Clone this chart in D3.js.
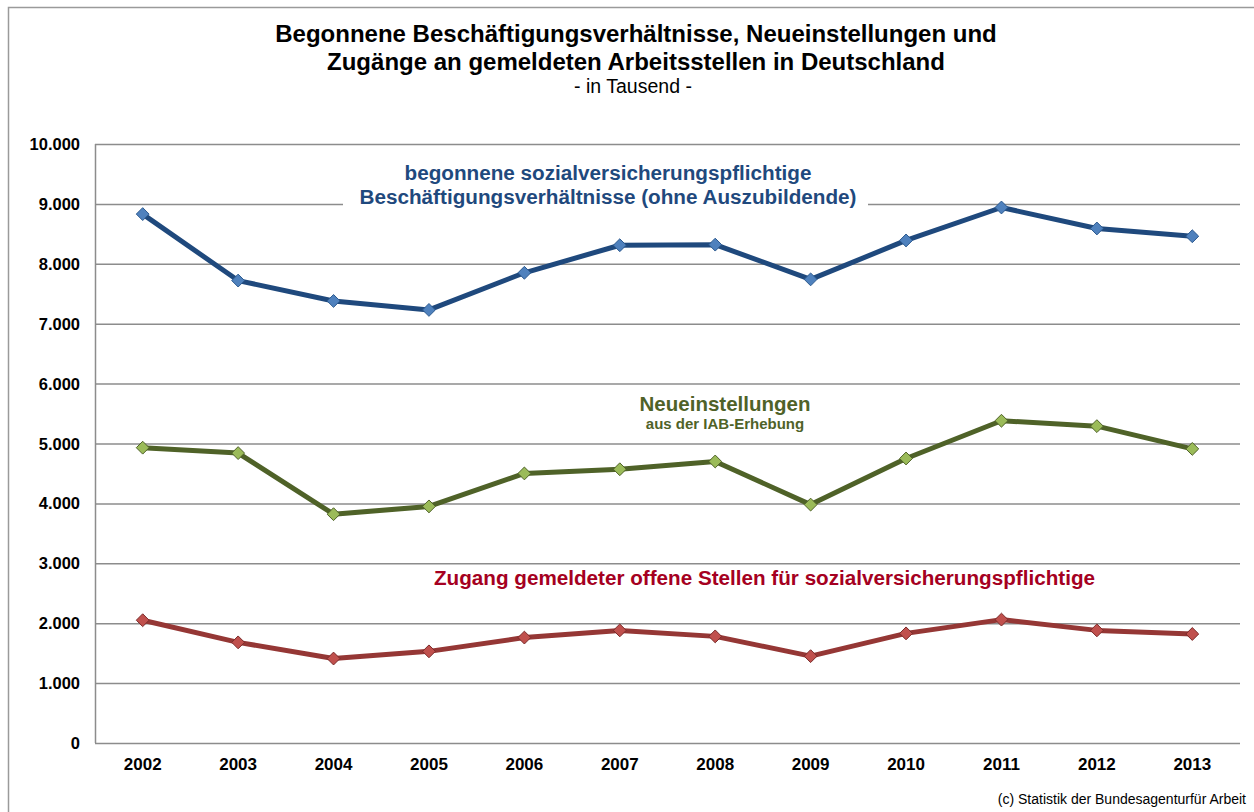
<!DOCTYPE html>
<html>
<head>
<meta charset="utf-8">
<script src="https://cdn.jsdelivr.net/npm/d3@7"></script>
<style>
  body { margin: 0; background: #fff; }
  text { font-family: "Liberation Sans", Arial, sans-serif; }
</style>
</head>
<body>
<div id="chart"></div>
<script>
const years = ["2002", "2003", "2004", "2005", "2006", "2007", "2008", "2009", "2010", "2011", "2012", "2013"];
const beschaeftigung = [8830, 7720, 7380, 7230, 7850, 8310, 8320, 7740, 8390, 8940, 8590, 8460];
const neueinstellungen = [4930, 4840, 3820, 3950, 4500, 4570, 4700, 3980, 4750, 5380, 5290, 4910];
const zugangStellen = [2050, 1680, 1410, 1530, 1760, 1880, 1780, 1450, 1830, 2060, 1880, 1820];
const yTicks = [0, 1000, 2000, 3000, 4000, 5000, 6000, 7000, 8000, 9000, 10000];

const width = 1254;
const height = 812;
const margin = { top: 144, right: 14, bottom: 69, left: 95 };

const svg = d3.select("#chart")
    .append("svg")
    .attr("width", width)
    .attr("height", height);

// outer frame
svg.append("rect")
    .attr("x", 8.5).attr("y", 7.5)
    .attr("width", width + 10).attr("height", height + 10)
    .attr("fill", "none")
    .attr("stroke", "#9a9a9a")
    .attr("stroke-width", 1.5);

// title
const title = svg.append("g").attr("text-anchor", "middle");
title.append("text").attr("x", 636).attr("y", 42)
    .style("font-size", "24px").style("font-weight", "bold")
    .text("Begonnene Beschäftigungsverhältnisse, Neueinstellungen und");
title.append("text").attr("x", 636).attr("y", 70)
    .style("font-size", "24px").style("font-weight", "bold")
    .text("Zugänge an gemeldeten Arbeitsstellen in Deutschland");
title.append("text").attr("x", 633).attr("y", 93)
    .style("font-size", "19.5px")
    .text("- in Tausend -");

const x = d3.scaleBand()
    .domain(years)
    .range([margin.left, width - margin.right])
    .padding(0);

const y = d3.scaleLinear()
    .domain([0, 10000])
    .range([height - margin.bottom, margin.top]);

const fmt = d3.formatLocale({ decimal: ",", thousands: ".", grouping: [3], currency: ["", " €"] }).format(",.0f");

// gridlines
svg.append("g")
    .selectAll("line")
    .data(yTicks)
    .enter()
    .append("line")
    .attr("x1", margin.left)
    .attr("x2", width - margin.right)
    .attr("y1", (d) => y(d) + 0.5)
    .attr("y2", (d) => y(d) + 0.5)
    .attr("stroke", "#8c8c8c")
    .attr("stroke-width", 1.5);

svg.append("line")
    .attr("x1", margin.left + 0.5).attr("x2", margin.left + 0.5)
    .attr("y1", y(10000)).attr("y2", y(0))
    .attr("stroke", "#8c8c8c")
    .attr("stroke-width", 1.5);

// y labels
svg.append("g")
    .selectAll("text")
    .data(yTicks)
    .enter()
    .append("text")
    .attr("x", 80)
    .attr("y", (d) => y(d) + 6)
    .attr("text-anchor", "end")
    .style("font-size", "16.5px")
    .style("font-weight", "bold")
    .text((d) => fmt(d));

// x labels
svg.append("g")
    .selectAll("text")
    .data(years)
    .enter()
    .append("text")
    .attr("x", (d) => x(d) + x.bandwidth() / 2)
    .attr("y", 770)
    .attr("text-anchor", "middle")
    .style("font-size", "17px")
    .style("font-weight", "bold")
    .text((d) => d);

// blue series label with white box over gridline
svg.append("rect")
    .attr("x", 343).attr("y", 160)
    .attr("width", 525).attr("height", 52)
    .attr("fill", "#fff");
const blueLabel = svg.append("g").attr("text-anchor", "middle")
    .style("fill", "#1F497D").style("font-weight", "bold").style("font-size", "20.7px");
blueLabel.append("text").attr("x", 608).attr("y", 180).text("begonnene sozialversicherungspflichtige");
blueLabel.append("text").attr("x", 608).attr("y", 204).text("Beschäftigungsverhältnisse (ohne Auszubildende)");

const greenLabel = svg.append("g").attr("text-anchor", "middle")
    .style("fill", "#4F6228").style("font-weight", "bold");
greenLabel.append("text").attr("x", 725).attr("y", 411).style("font-size", "20.5px").text("Neueinstellungen");
greenLabel.append("text").attr("x", 725).attr("y", 429).style("font-size", "15px").text("aus der IAB-Erhebung");

svg.append("text")
    .attr("x", 434).attr("y", 585)
    .attr("textLength", 661)
    .attr("lengthAdjust", "spacingAndGlyphs")
    .style("fill", "#A50021").style("font-weight", "bold").style("font-size", "20px")
    .text("Zugang gemeldeter offene Stellen für sozialversicherungspflichtige");

// series
const series = [
    { values: beschaeftigung, line: "#1F497D", fill: "#4F81BD", stroke: "#2C5A8F" },
    { values: neueinstellungen, line: "#4F6228", fill: "#9BBB59", stroke: "#4F6228" },
    { values: zugangStellen, line: "#953735", fill: "#C0504D", stroke: "#7A2B2A" }
];

const line = d3.line()
    .x((d, i) => x(years[i]) + x.bandwidth() / 2)
    .y((d) => y(d));

const diamond = d3.symbol().type(d3.symbolDiamond2).size(105);

series.forEach((s) => {
    svg.append("path")
        .datum(s.values)
        .attr("d", line)
        .attr("fill", "none")
        .attr("stroke", s.line)
        .attr("stroke-width", 5)
        .attr("stroke-linejoin", "round");

    svg.append("g")
        .selectAll("path")
        .data(s.values)
        .enter()
        .append("path")
        .attr("d", diamond)
        .attr("transform", (d, i) => `translate(${x(years[i]) + x.bandwidth() / 2},${y(d)})`)
        .attr("fill", s.fill)
        .attr("stroke", s.stroke)
        .attr("stroke-width", 1);
});

// source
svg.append("text")
    .attr("x", 1246).attr("y", 804)
    .attr("text-anchor", "end")
    .style("font-size", "14px")
    .text("(c) Statistik der Bundesagenturfür Arbeit");
</script>
</body>
</html>
